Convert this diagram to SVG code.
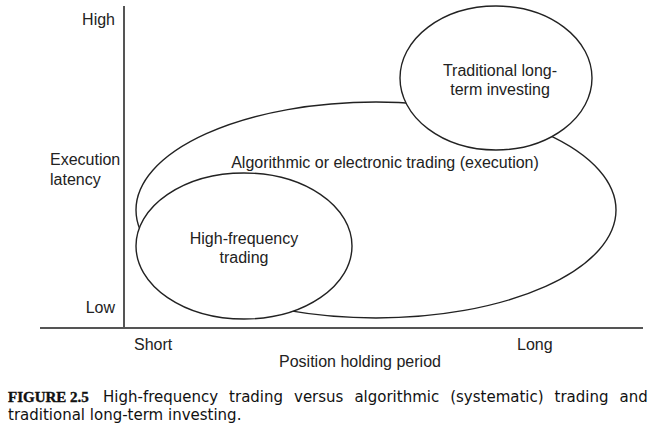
<svg xmlns="http://www.w3.org/2000/svg" width="662" height="428" viewBox="0 0 662 428">
<style>
.t{font-family:"Liberation Sans",Arial,sans-serif;font-size:16px;fill:#222}
.m{text-anchor:middle}
.e{fill:#fff;stroke:#222;stroke-width:1.4}
.ax{stroke:#555;stroke-width:2;fill:none}
.cap{font-family:"DejaVu Sans",sans-serif;font-size:15px;fill:#111}
.fig{font-family:"Liberation Serif",serif;font-size:15px;font-weight:bold;fill:#111;stroke:#111;stroke-width:0.4}
</style>
<rect width="662" height="428" fill="#fff"/>
<g id="axes">
<line class="ax" x1="124" y1="6" x2="124" y2="329"/>
<line class="ax" x1="40" y1="328" x2="643" y2="328"/>
<text class="t" x="115" y="25" text-anchor="end">High</text>
<text class="t" x="50" y="165">Execution</text>
<text class="t" x="50" y="185">latency</text>
<text class="t" x="115" y="313" text-anchor="end">Low</text>
<text class="t" x="134" y="350">Short</text>
<text class="t" x="517" y="350">Long</text>
<text class="t m" x="360" y="367">Position holding period</text>
</g>
<g id="algo">
<ellipse class="e" cx="376" cy="210" rx="240" ry="108"/>
<text class="t m" x="385" y="168">Algorithmic or electronic trading (execution)</text>
</g>
<g id="traditional">
<ellipse class="e" cx="496" cy="78" rx="96" ry="72"/>
<text class="t m" x="500" y="76">Traditional long-</text>
<text class="t m" x="500" y="95">term investing</text>
</g>
<g id="hft">
<ellipse class="e" cx="244" cy="246" rx="108" ry="73"/>
<text class="t m" x="244" y="244">High-frequency</text>
<text class="t m" x="244" y="263">trading</text>
</g>
<g id="connectors"></g>
<g id="caption">
<text class="fig" x="8" y="402">FIGURE 2.5</text>
<text class="cap" x="103" y="402" word-spacing="6.2">High-frequency trading versus algorithmic (systematic) trading and</text>
<text class="cap" x="8" y="420">traditional long-term investing.</text>
</g>
</svg>
